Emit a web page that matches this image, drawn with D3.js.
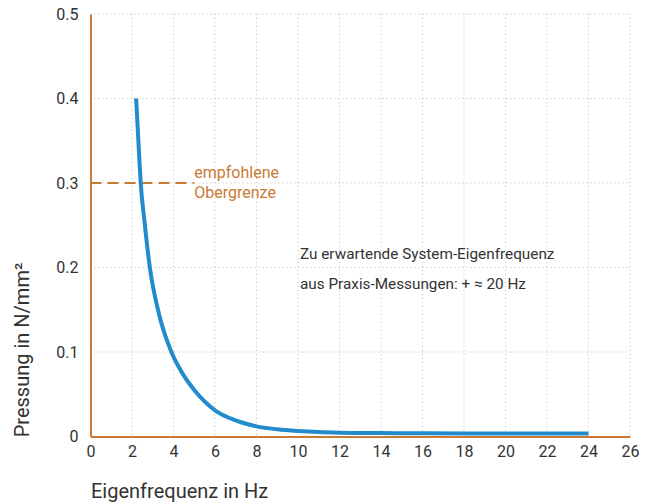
<!DOCTYPE html>
<html><head><meta charset="utf-8">
<script src="https://cdn.jsdelivr.net/npm/d3@7"></script>
<style>
html,body{margin:0;padding:0;background:#fff;}
svg text{font-family:Roboto,"Open Sans",sans-serif;}
</style></head>
<body><svg id="c" width="656" height="504"></svg>
<script>
const freqHz   = [2.2, 2.35, 2.42, 2.6, 2.86, 3.3, 3.9, 4.5, 5, 6, 7, 8, 9, 10, 11, 12, 14, 16, 20, 24];
const pressure = [0.40, 0.33, 0.30, 0.255, 0.20, 0.145, 0.10, 0.072, 0.055, 0.031, 0.019, 0.012, 0.0085, 0.0065, 0.0052, 0.0045, 0.004, 0.0037, 0.0035, 0.0035];
const xTicks = [0,2,4,6,8,10,12,14,16,18,20,22,24,26];
const yTicks = [0,0.1,0.2,0.3,0.4,0.5];
const limitValue = 0.3, limitEndX = 5;
const limitLabel = ["empfohlene","Obergrenze"];
const noteLines = ["Zu erwartende System-Eigenfrequenz","aus Praxis-Messungen: + \u2248 20 Hz"];
const xTitle = "Eigenfrequenz in Hz", yTitle = "Pressung in N/mm\u00b2";

const svg = d3.select("#c");
const L=90.5, R=630, T=14, B=436.5;
const x = d3.scaleLinear().domain([0,26]).range([L,R]);
const y = d3.scaleLinear().domain([0,0.5]).range([B,T]);
const orange = "#c97a35";

// grid
const g = svg.append("g");
g.selectAll(".vg").data(xTicks.slice(1)).join("line")
  .attr("x1",d=>x(d)).attr("x2",d=>x(d)).attr("y1",T).attr("y2",B)
  .attr("stroke","#bdbdbd").attr("stroke-width",1).attr("stroke-dasharray","1,3");
g.selectAll(".hg").data(yTicks.slice(1)).join("line")
  .attr("y1",d=>y(d)).attr("y2",d=>y(d)).attr("x1",L).attr("x2",R)
  .attr("stroke","#bdbdbd").attr("stroke-width",1).attr("stroke-dasharray","1,3");

// axes
const xa = svg.append("g").attr("transform",`translate(0,${B})`)
  .call(d3.axisBottom(x).tickValues(xTicks).tickSize(0).tickPadding(9).tickFormat(d3.format("d")));
xa.select(".domain").attr("stroke",orange).attr("stroke-width",2);
xa.selectAll("text").attr("font-size",16).attr("fill","#333");
const ya = svg.append("g").attr("transform",`translate(${L},0)`)
  .call(d3.axisLeft(y).tickValues(yTicks).tickSize(0).tickPadding(12).tickFormat(d=>d===0?"0":d3.format(".1f")(d)));
ya.select(".domain").attr("stroke",orange).attr("stroke-width",2);
ya.selectAll("text").attr("font-size",16).attr("fill","#333");

// limit line
svg.append("line").attr("x1",L).attr("x2",x(limitEndX)).attr("y1",y(limitValue)).attr("y2",y(limitValue))
  .attr("stroke",orange).attr("stroke-width",2).attr("stroke-dasharray","11,6");
svg.append("text").attr("font-size",16).attr("fill",orange)
  .selectAll("tspan").data(limitLabel).join("tspan").attr("x",x(limitEndX)).attr("y",(d,i)=>y(limitValue)-5+i*20).text(d=>d);

// curve
const pts = freqHz.map((f,i)=>[f,pressure[i]]);
svg.append("path").datum(pts).attr("fill","none").attr("stroke","#218bcc").attr("stroke-width",4)
  .attr("d",d3.line().x(d=>x(d[0])).y(d=>y(d[1])).curve(d3.curveMonotoneX));

// note
svg.append("text").attr("font-size",15.3).attr("fill","#333")
  .selectAll("tspan").data(noteLines).join("tspan").attr("x",300).attr("y",(d,i)=>259+i*30).text(d=>d);

// titles
svg.append("text").attr("x",91).attr("y",498).attr("font-size",20).attr("fill","#333").text(xTitle);
svg.append("text").attr("transform","translate(29,350) rotate(-90)").attr("text-anchor","middle")
  .attr("font-size",20).attr("fill","#333").text(yTitle);
</script></body></html>
